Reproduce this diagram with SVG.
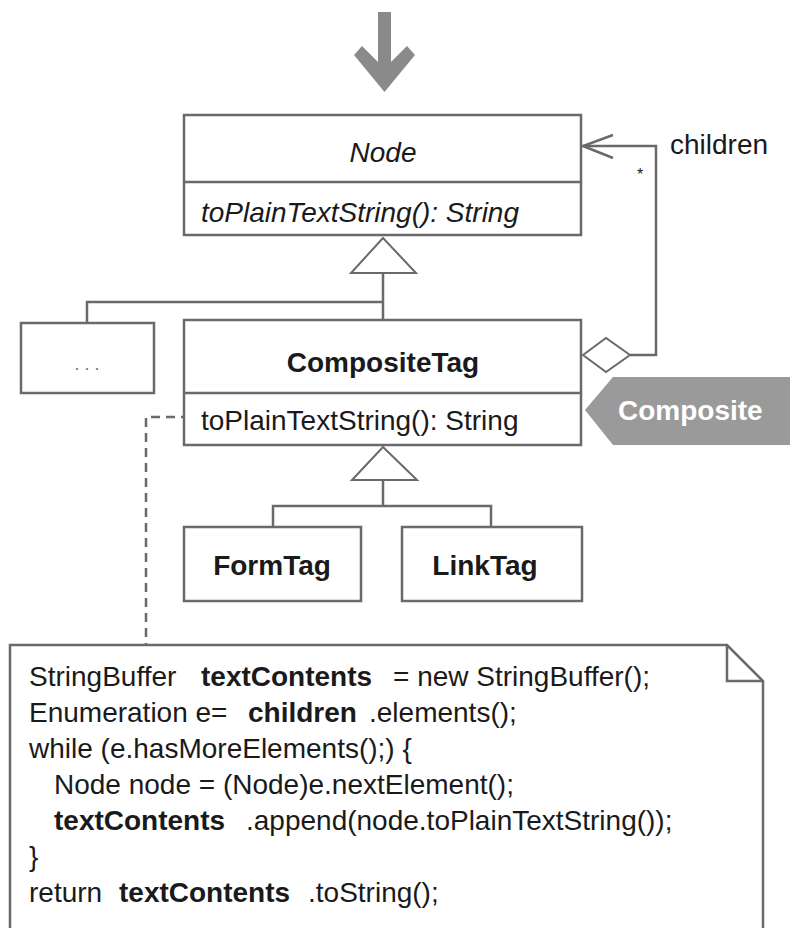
<svg xmlns="http://www.w3.org/2000/svg" width="790" height="928" viewBox="0 0 790 928">
<style>
.box{fill:#fff;stroke:#6a6a6a;stroke-width:2.5}
.ln{fill:none;stroke:#6a6a6a;stroke-width:2.5}
.tri{fill:#fff;stroke:#6a6a6a;stroke-width:2}
.t{font-family:"Liberation Sans",Arial,sans-serif;font-size:28px;fill:#1a1a1a}
.b{font-weight:bold}
.i{font-style:italic}
.c{text-anchor:middle}
</style>
<rect width="790" height="928" fill="#fff"/>
<polygon id="arrow-in" points="378,12 391,12 391,62 407,46 415,55 384.5,92 354,55 362,46 378,62" fill="#8a8a8a"/>
<g id="connectors">
  <polygon class="tri" points="383,238 351,273 416,273"/>
  <polyline class="ln" points="383,273 383,320"/>
  <polyline class="ln" points="87,323 87,302 383,302"/>
  <polygon class="tri" points="383,447 352,480 417,480"/>
  <polyline class="ln" points="383,480 383,506"/>
  <polyline class="ln" points="273,527 273,506 491,506 491,527"/>
  <polyline class="ln" points="583,146 656,146 656,355 630,355"/>
  <polyline class="ln" points="613,135 583,146 613,158"/>
  <polygon class="tri" points="583,355 606,338 630,355 606,372"/>
  <polyline class="ln" stroke-dasharray="9,6" points="190,417 146,417 146,645"/>
  <text class="t" x="637" y="180" font-size="16" style="font-size:16px">*</text>
  <text class="t" x="670" y="154">children</text>
</g>
<g id="node-Node">
  <rect class="box" x="184" y="115" width="397" height="120"/>
  <line class="ln" x1="184" y1="182" x2="581" y2="182"/>
  <text class="t i c" x="383" y="162">Node</text>
  <text class="t i" x="201" y="222">toPlainTextString(): String</text>
</g>
<g id="node-etc">
  <rect class="box" x="21" y="323" width="133" height="70"/>
  <text class="t c" x="87" y="370" style="font-size:18px;fill:#777">. . .</text>
</g>
<g id="node-CompositeTag">
  <rect class="box" x="184" y="320" width="397" height="125"/>
  <line class="ln" x1="184" y1="393" x2="581" y2="393"/>
  <text class="t b c" x="383" y="372">CompositeTag</text>
  <text class="t" x="201" y="430">toPlainTextString(): String</text>
</g>
<g id="tag-Composite">
  <polygon points="585,410 613,377 790,377 790,445 613,445" fill="#9a9a9a"/>
  <text class="t b" x="618" y="420" style="fill:#fff">Composite</text>
</g>
<g id="node-FormTag">
  <rect class="box" x="184" y="527" width="177" height="74"/>
  <text class="t b c" x="272" y="575">FormTag</text>
</g>
<g id="node-LinkTag">
  <rect class="box" x="402" y="527" width="180" height="74"/>
  <text class="t b c" x="485" y="575">LinkTag</text>
</g>
<g id="note">
  <path d="M10,928 L10,645 L727,645 L763,681 L763,928" fill="#fff" stroke="#6a6a6a" stroke-width="2.5"/>
  <path d="M727,645 L727,681 L763,681" class="ln"/>
  <text class="t" y="686"><tspan x="29">StringBuffer</tspan><tspan x="201" class="b" font-weight="bold">textContents</tspan><tspan x="393">= new StringBuffer();</tspan></text>
  <text class="t" y="722"><tspan x="29">Enumeration e=</tspan><tspan x="248" font-weight="bold">children</tspan><tspan x="369">.elements();</tspan></text>
  <text class="t" x="29" y="758">while (e.hasMoreElements();) {</text>
  <text class="t" x="54" y="794">Node node = (Node)e.nextElement();</text>
  <text class="t" y="830"><tspan x="54" font-weight="bold">textContents</tspan><tspan x="246">.append(node.toPlainTextString());</tspan></text>
  <text class="t" x="29" y="866">}</text>
  <text class="t" y="902"><tspan x="29">return</tspan><tspan x="119" font-weight="bold">textContents</tspan><tspan x="308">.toString();</tspan></text>
</g>
</svg>
